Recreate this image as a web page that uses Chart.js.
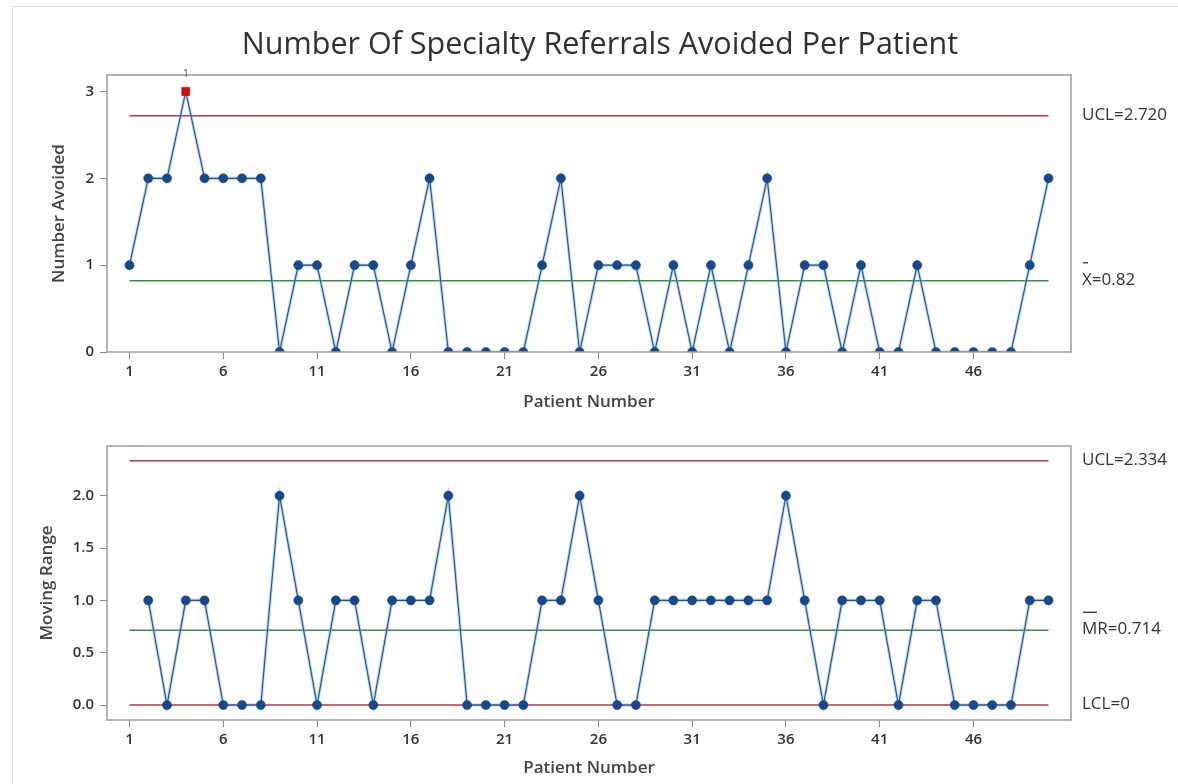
<!DOCTYPE html>
<html>
<head>
<meta charset="utf-8">
<title>I-MR Chart: Specialty Referrals Avoided</title>
<script src="https://cdn.jsdelivr.net/npm/chart.js@4.4.1/dist/chart.umd.min.js"></script>
<style>
  html, body { margin: 0; padding: 0; background: #fff; }
  #page { position: relative; width: 1178px; height: 784px; overflow: hidden; background: #fff; }
  #frame { position: absolute; left: 12px; top: 6px; width: 1166px; height: 778px;
           border-left: 1px solid #e0e0e0; border-top: 1px solid #e0e0e0; box-sizing: border-box; }
  canvas { position: absolute; left: 0; }
  #individuals { top: 0; }
  #ranges { top: 420px; }
</style>
</head>
<body>
<div id="page">
  <div id="frame"></div>
  <canvas id="individuals" width="1178" height="420"></canvas>
  <canvas id="ranges" width="1178" height="364"></canvas>
</div>
<script>
// Patient numbers (x categories)
const patients = [1,2,3,4,5,6,7,8,9,10,11,12,13,14,15,16,17,18,19,20,21,22,23,24,25,
                  26,27,28,29,30,31,32,33,34,35,36,37,38,39,40,41,42,43,44,45,46,47,48,49,50];

// Individual values: referrals avoided per patient
const avoided = [1,2,2,3,2,2,2,2,0,1, 1,0,1,1,0,1,2,0,0,0,
                 0,0,1,2,0,1,1,1,0,1, 0,1,0,1,2,0,1,1,0,1,
                 0,0,1,0,0,0,0,0,1,2];

// Moving ranges, patients 2..50
const movingRange = [1,0,1,1,0,0,0,2,1,
                     0,1,1,0,1,1,1,2,0,0,
                     0,0,1,1,2,1,0,0,1,1,
                     1,1,1,1,1,2,1,0,1,1,
                     1,0,1,1,0,0,0,0,1,1];

// Tick labels
const patientTicks = [1,6,11,16,21,26,31,36,41,46];
const avoidedTicks = [0,1,2,3];
const rangeTicks = [0,0.5,1.0,1.5,2.0];

// Control limits
const uclX = 2.720;
const meanX = 0.82;
const uclMR = 2.334;
const meanMR = 0.714;
const lclMR = 0;

const FONT = "'Open Sans', 'Noto Sans', 'DejaVu Sans', sans-serif";
const INK = '#333333';
const LIMIT_RED = '#b03a3f';
const CENTER_GREEN = '#3a8b45';
const LINE_CORE = '#24528c';
const LINE_HALO = 'rgba(120,175,230,0.55)';
const MARKER = '#17498a';
const FLAG_RED = '#d10f0f';

const firstP = patients[0];
const lastP = patients[patients.length - 1];

function limitSeries(value, color) {
  return {
    data: [{x: firstP, y: value}, {x: lastP, y: value}],
    borderColor: color, borderWidth: 1.5, pointRadius: 0, fill: false
  };
}

// Box around the plotting region, right-side limit labels and optional title
const framePlugin = {
  id: 'spcFrame',
  afterDraw(chart, args, opts) {
    const {ctx, chartArea: a, scales} = chart;
    ctx.save();
    ctx.strokeStyle = '#9c9c9c';
    ctx.lineWidth = 1.5;
    ctx.strokeRect(a.left, a.top, a.right - a.left, a.bottom - a.top);

    ctx.fillStyle = INK;
    ctx.font = "17px " + FONT;
    ctx.textAlign = 'left';
    ctx.textBaseline = 'middle';
    (opts.labels || []).forEach(l => {
      const y = scales.y.getPixelForValue(l.value) - 1;
      const x = a.right + 11;
      ctx.fillText(l.text, x, y);
      if (l.bar) {
        ctx.strokeStyle = INK;
        ctx.lineWidth = 1.3;
        ctx.beginPath();
        ctx.moveTo(x + 1, y - 17);
        ctx.lineTo(x + 1 + l.bar, y - 17);
        ctx.stroke();
      }
    });

    (opts.flags || []).forEach(p => {
      ctx.font = "11px " + FONT;
      ctx.textAlign = 'center';
      ctx.textBaseline = 'middle';
      ctx.fillStyle = '#555';
      ctx.fillText('1', scales.x.getPixelForValue(p), a.top - 1);
    });

    if (opts.title) {
      ctx.font = "30.5px " + FONT;
      ctx.fillStyle = '#303030';
      ctx.textAlign = 'center';
      ctx.textBaseline = 'middle';
      ctx.fillText(opts.title, 600, 45);
    }
    ctx.restore();
  }
};

function xScale(titlePad) {
  return {
    type: 'linear', min: -0.2, max: 51.2,
    afterBuildTicks: s => { s.ticks = patientTicks.map(v => ({value: v})); },
    ticks: { autoSkip: false, maxRotation: 0, padding: 4, color: INK,
             font: {family: FONT, size: 15, weight: '600'} },
    grid: { display: true, drawOnChartArea: false, drawTicks: true, tickLength: 7, color: '#8a8a8a' },
    border: { display: false },
    title: { display: true, text: 'Patient Number', color: '#444',
             font: {family: FONT, size: 17, weight: '600'}, padding: {top: 0, bottom: titlePad} }
  };
}

function yScale(min, max, ticks, fmt, title, titlePad) {
  return {
    type: 'linear', min: min, max: max,
    afterBuildTicks: s => { s.ticks = ticks.map(v => ({value: v})); },
    ticks: { padding: 6, color: INK, font: {family: FONT, size: 15, weight: '600'}, callback: fmt },
    grid: { display: true, drawOnChartArea: false, drawTicks: true, tickLength: 7, color: '#8a8a8a' },
    border: { display: false },
    title: { display: true, text: title, color: '#444',
             font: {family: FONT, size: 17, weight: '600'}, padding: {top: titlePad, bottom: 0} }
  };
}

// Individuals chart
const flagged = patients.filter((p, i) => avoided[i] > uclX);
new Chart(document.getElementById('individuals'), {
  type: 'line',
  data: {
    datasets: [
      {
        data: avoided.map((v, i) => ({x: patients[i], y: v})),
        borderColor: LINE_CORE, borderWidth: 1.1, tension: 0,
        pointStyle: c => (c.raw && c.raw.y > uclX) ? 'rect' : 'circle',
        pointRadius: c => (c.raw && c.raw.y > uclX) ? 5.7 : 4.6,
        pointBackgroundColor: c => (c.raw && c.raw.y > uclX) ? FLAG_RED : MARKER,
        pointBorderColor: c => (c.raw && c.raw.y > uclX) ? '#a30000' : MARKER,
        pointBorderWidth: 0.5
      },
      {
        data: avoided.map((v, i) => ({x: patients[i], y: v})),
        borderColor: LINE_HALO, borderWidth: 3, pointRadius: 0, tension: 0
      },
      limitSeries(uclX, LIMIT_RED),
      limitSeries(meanX, CENTER_GREEN)
    ]
  },
  options: {
    responsive: false, animation: false, events: [],
    layout: { padding: {left: 0, top: 75, right: 107, bottom: 0} },
    scales: {
      x: Object.assign(xScale(8.1), { afterFit: s => { s.height = 68; } }),
      y: Object.assign(yScale(0, 3.19, avoidedTicks, v => String(v), 'Number Avoided', 48.8),
                       { afterFit: s => { s.width = 107; } })
    },
    plugins: {
      legend: {display: false}, tooltip: {enabled: false},
      spcFrame: {
        title: 'Number Of Specialty Referrals Avoided Per Patient',
        flags: flagged,
        labels: [
          {value: uclX, text: 'UCL=' + uclX.toFixed(3)},
          {value: meanX, text: 'X=' + meanX.toFixed(2), bar: 5}
        ]
      }
    }
  },
  plugins: [framePlugin]
});

// Moving range chart
const mrPoints = movingRange.map((v, i) => ({x: patients[i + 1], y: v}));
new Chart(document.getElementById('ranges'), {
  type: 'line',
  data: {
    datasets: [
      {
        data: mrPoints,
        borderColor: LINE_CORE, borderWidth: 1.1, tension: 0,
        pointStyle: 'circle', pointRadius: 4.6,
        pointBackgroundColor: MARKER, pointBorderColor: MARKER, pointBorderWidth: 0.5
      },
      {
        data: mrPoints,
        borderColor: LINE_HALO, borderWidth: 3, pointRadius: 0, tension: 0
      },
      limitSeries(uclMR, LIMIT_RED),
      limitSeries(meanMR, CENTER_GREEN),
      limitSeries(lclMR, LIMIT_RED)
    ]
  },
  options: {
    responsive: false, animation: false, events: [],
    layout: { padding: {left: 0, top: 26, right: 107, bottom: 0} },
    scales: {
      x: Object.assign(xScale(5.8), { afterFit: s => { s.height = 64; } }),
      y: Object.assign(yScale(-0.143, 2.475, rangeTicks, v => Number(v).toFixed(1), 'Moving Range', 36.8),
                       { afterFit: s => { s.width = 107; } })
    },
    plugins: {
      legend: {display: false}, tooltip: {enabled: false},
      spcFrame: {
        labels: [
          {value: uclMR, text: 'UCL=' + uclMR.toFixed(3)},
          {value: meanMR, text: 'MR=' + meanMR.toFixed(3), bar: 14},
          {value: lclMR, text: 'LCL=' + lclMR}
        ]
      }
    }
  },
  plugins: [framePlugin]
});
</script>
</body>
</html>
